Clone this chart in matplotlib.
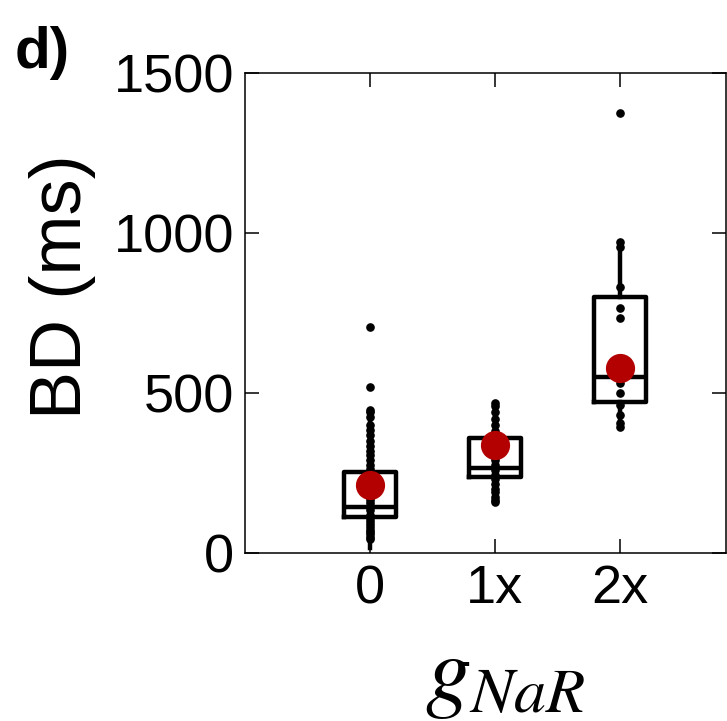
import numpy as np
import matplotlib.pyplot as plt

plt.rcParams['font.family'] = ['Liberation Sans', 'DejaVu Sans']
plt.rcParams['mathtext.fontset'] = 'stix'

groups = ['0', '1x', '2x']

# box stats per condition (ms)
q1 = [112, 238, 472]
med = [144, 266, 550]
q3 = [253, 359, 800]
whislo = [15, 159, 394]
whishi = [447, 469, 972]
means = [213, 338, 578]

# individual burst durations (ms)
bd_0 = [706, 519, 447, 440, 425, 400, 385, 370, 350, 335, 320, 305, 290, 275,
        262, 250, 240, 230, 220, 205, 195, 185, 175, 165, 155, 145, 135, 120,
        110, 100, 90, 80, 72, 65, 58, 50, 45]
bd_1x = [469, 460, 440, 420, 400, 380, 360, 345, 330, 315, 300, 290, 275, 260,
         245, 230, 215, 200, 190, 175, 165, 159]
bd_2x = [1375, 972, 955, 831, 765, 734, 531, 500, 462, 430, 406, 394]

fig = plt.figure(figsize=(7.27, 7.21), dpi=100)
ax = fig.add_axes([245/727, 1-553/721, 481/727, 480/721])

pos = np.arange(len(groups))
stats = []
for i in range(len(groups)):
    stats.append(dict(q1=q1[i], med=med[i], q3=q3[i],
                      whislo=whislo[i], whishi=whishi[i], fliers=[]))

ax.bxp(stats, positions=pos, widths=0.42, showcaps=False,
       boxprops=dict(color='black', linewidth=3.2),
       medianprops=dict(color='black', linewidth=3.2),
       whiskerprops=dict(color='black', linewidth=3.2))

for i, vals in enumerate([bd_0, bd_1x, bd_2x]):
    ax.plot(np.full(len(vals), pos[i]), vals, 'o', color='black',
            markersize=5.2, zorder=3)

ax.plot(pos, means, 'o', color='#b30000', markersize=20, zorder=4)

ax.set_xlim(-1, 2.85)
ax.set_ylim(0, 1500)
ax.set_xticks(pos)
ax.set_xticklabels(groups)
ax.set_yticks([0, 500, 1000, 1500])
ax.tick_params(direction='in', length=10, width=1.1, labelsize=39,
               top=True, right=True, pad=8)
for s in ax.spines.values():
    s.set_linewidth(1.1)

ax.set_ylabel('BD (ms)', fontsize=52)
ax.yaxis.set_label_coords(-0.31, 0.555)
ax.set_xlabel('$g_{NaR}$', fontsize=66)
ax.xaxis.set_label_coords(0.54, -0.17)

fig.text(0.02, 0.905, 'd)', fontsize=42, fontweight='bold')

fig.savefig('out.png', dpi=100)
